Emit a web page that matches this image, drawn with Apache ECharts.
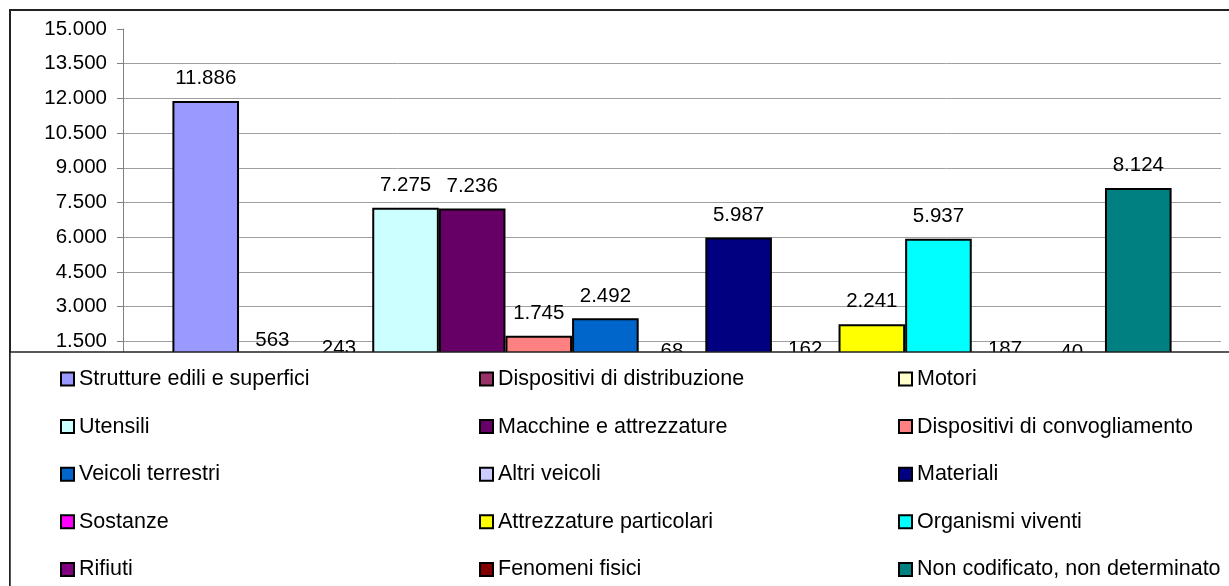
<!DOCTYPE html>
<html>
<head>
<meta charset="utf-8">
<title>Agenti materiali</title>
<script src="https://cdn.jsdelivr.net/npm/echarts@6/dist/echarts.min.js"></script>
<style>
  html, body { margin: 0; padding: 0; background: #fff; }
  #chart { width: 1229px; height: 586px; }
</style>
</head>
<body>
<div id="chart"></div>
<script>
// serie (una sola categoria, una barra per serie)
const seriesNames = [
  'Strutture edili e superfici', 'Dispositivi di distribuzione', 'Motori',
  'Utensili', 'Macchine e attrezzature', 'Dispositivi di convogliamento',
  'Veicoli terrestri', 'Altri veicoli', 'Materiali',
  'Sostanze', 'Attrezzature particolari', 'Organismi viventi',
  'Rifiuti', 'Fenomeni fisici', 'Non codificato, non determinato'
];
const seriesValues = [11886, 563, 243, 7275, 7236, 1745, 2492, 68, 5987, 162, 2241, 5937, 187, 40, 8124];
const seriesColors = [
  '#9999FF', '#993366', '#FFFFCC',
  '#CCFFFF', '#660066', '#FF8080',
  '#0066CC', '#CCCCFF', '#000080',
  '#FF00FF', '#FFFF00', '#00FFFF',
  '#800080', '#800000', '#008080'
];
const yMin = 0;
const yMax = 15000;
const yStep = 1500;

const FONT = '"Liberation Sans", Arial, sans-serif';
const FS = 20.5;

// formato italiano: 11886 -> 11.886
function fmt(v) {
  return String(v).replace(/\B(?=(\d{3})+(?!\d))/g, '.');
}

const chart = echarts.init(document.getElementById('chart'));

const series = seriesNames.map(function (name, i) {
  return {
    name: name,
    type: 'bar',
    barGap: '0%',
    barCategoryGap: '9%',
    data: [seriesValues[i]],
    itemStyle: { color: seriesColors[i], borderColor: '#000', borderWidth: 2 },
    label: {
      show: true,
      position: 'top',
      distance: 12,
      color: '#000',
      fontSize: FS,
      fontFamily: FONT,
      formatter: function (p) { return fmt(p.value); }
    }
  };
});

// legenda su tre colonne
function legendCol(col, left) {
  return {
    orient: 'vertical',
    left: left,
    top: 368,
    height: 300,
    padding: 0,
    z: 120,
    itemWidth: 13,
    itemHeight: 13,
    itemGap: 25.6,
    icon: 'rect',
    selectedMode: false,
    itemStyle: { borderColor: '#000', borderWidth: 2 },
    data: seriesNames.filter(function (n, i) { return i % 3 === col; }),
    textStyle: { fontSize: 21.5, fontFamily: FONT, color: '#000', lineHeight: 22 }
  };
}

chart.setOption({
  animation: false,
  backgroundColor: '#fff',
  grid: { left: 123, right: 8, top: 29, bottom: 210 },
  xAxis: {
    type: 'category',
    data: [''],
    axisLine: { show: false },
    axisTick: { show: false },
    axisLabel: { show: false }
  },
  yAxis: {
    type: 'value',
    min: yMin,
    max: yMax,
    interval: yStep,
    axisLine: { show: true, lineStyle: { color: '#808080', width: 1 } },
    axisTick: { show: true, length: 6, lineStyle: { color: '#808080' } },
    axisLabel: {
      margin: 16,
      color: '#000',
      fontSize: FS,
      fontFamily: FONT,
      formatter: fmt
    },
    splitLine: { show: true, showMaxLine: false, lineStyle: { color: '#a0a0a0', width: 1 } }
  },
  legend: [legendCol(0, 60), legendCol(1, 479), legendCol(2, 898)],
  graphic: [
    {
      type: 'rect',
      z: 1,
      silent: true,
      shape: { x: 10, y: 10, width: 1240, height: 600 },
      style: { fill: null, stroke: '#222', lineWidth: 2 }
    },
    {
      type: 'rect',
      z: 100,
      silent: true,
      shape: { x: 10, y: 352, width: 1240, height: 260 },
      style: { fill: '#fff', stroke: '#222', lineWidth: 1.5 }
    }
  ],
  series: series
});
</script>
</body>
</html>
